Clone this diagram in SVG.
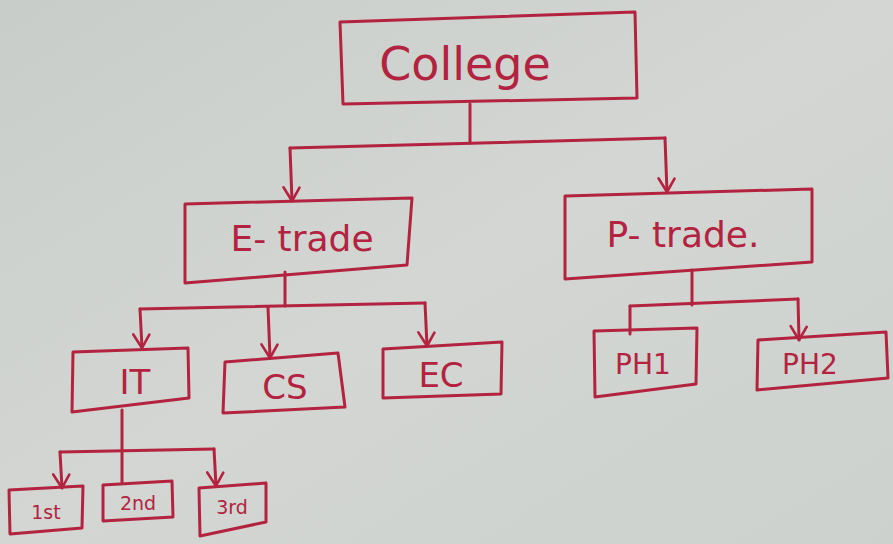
<svg xmlns="http://www.w3.org/2000/svg" width="893" height="544" viewBox="0 0 893 544">
<defs>
<linearGradient id="paper" x1="0" y1="0" x2="1" y2="1">
<stop offset="0" stop-color="#c9cdc9"/>
<stop offset="0.5" stop-color="#d3d6d2"/>
<stop offset="1" stop-color="#cdd1cd"/>
</linearGradient>
<marker id="arr" viewBox="0 0 20 20" refX="18" refY="10" markerWidth="20" markerHeight="20" markerUnits="userSpaceOnUse" orient="auto">
<path d="M5 2 L18 10 L4 18" fill="none" stroke="#b3233f" stroke-width="2.6" stroke-linecap="round" stroke-linejoin="round"/>
</marker>
<style>
.box{fill:none;stroke:#b3233f;stroke-width:3;stroke-linejoin:round}
.ln{fill:none;stroke:#b3233f;stroke-width:3;stroke-linecap:round;stroke-linejoin:round}
.ar{marker-end:url(#arr)}
.t{fill:#b3233f;font-family:"DejaVu Sans",sans-serif;text-anchor:middle}
</style>
</defs>
<rect width="893" height="544" fill="url(#paper)"/>
<g id="connectors">
<path class="ln" d="M470 104 L470 143"/>
<path class="ln" d="M290 148 L665 138"/>
<path class="ln ar" d="M290 148 L292 201"/>
<path class="ln ar" d="M665 138 L667 192"/>
<path class="ln" d="M285 272 L285 306"/>
<path class="ln" d="M140 309 L425 303"/>
<path class="ln ar" d="M140 309 L142 348"/>
<path class="ln ar" d="M268 307 L270 358"/>
<path class="ln ar" d="M425 303 L427 346"/>
<path class="ln" d="M692 270 L692 305"/>
<path class="ln" d="M630 306 L798 299"/>
<path class="ln" d="M630 306 L630 334"/>
<path class="ln ar" d="M798 299 L799 340"/>
<path class="ln" d="M122 410 L122 450"/>
<path class="ln" d="M60 452 L214 449"/>
<path class="ln ar" d="M60 452 L62 488"/>
<path class="ln" d="M122 450 L122 482"/>
<path class="ln ar" d="M214 449 L216 486"/>
</g>
<g id="college">
<polygon class="box" points="340,22 635,12 637,98 343,104"/>
<text class="t" x="465" y="80" font-size="46">College</text>
</g>
<g id="etrade">
<polygon class="box" points="185,204 412,198 407,265 185,283"/>
<text class="t" x="302" y="251" font-size="36">E- trade</text>
</g>
<g id="ptrade">
<polygon class="box" points="565,196 812,189 812,262 565,279"/>
<text class="t" x="683" y="247" font-size="36">P- trade.</text>
</g>
<g id="it">
<polygon class="box" points="73,352 188,348 189,398 72,412"/>
<text class="t" x="135" y="394" font-size="34">IT</text>
</g>
<g id="cs">
<polygon class="box" points="225,362 338,353 345,407 223,413"/>
<text class="t" x="285" y="399" font-size="34">CS</text>
</g>
<g id="ec">
<polygon class="box" points="383,349 502,342 501,394 383,398"/>
<text class="t" x="441" y="387" font-size="34">EC</text>
</g>
<g id="ph1">
<polygon class="box" points="594,331 697,328 696,384 595,397"/>
<text class="t" x="643" y="374" font-size="28">PH1</text>
</g>
<g id="ph2">
<polygon class="box" points="758,340 886,332 888,378 757,390"/>
<text class="t" x="810" y="374" font-size="28">PH2</text>
</g>
<g id="first">
<polygon class="box" points="9,490 83,486 82,528 10,534"/>
<text class="t" x="46" y="519" font-size="19">1st</text>
</g>
<g id="second">
<polygon class="box" points="103,485 172,481 173,517 103,521"/>
<text class="t" x="138" y="510" font-size="19">2nd</text>
</g>
<g id="third">
<polygon class="box" points="199,488 266,483 266,522 200,536"/>
<text class="t" x="232" y="514" font-size="19">3rd</text>
</g>
</svg>
